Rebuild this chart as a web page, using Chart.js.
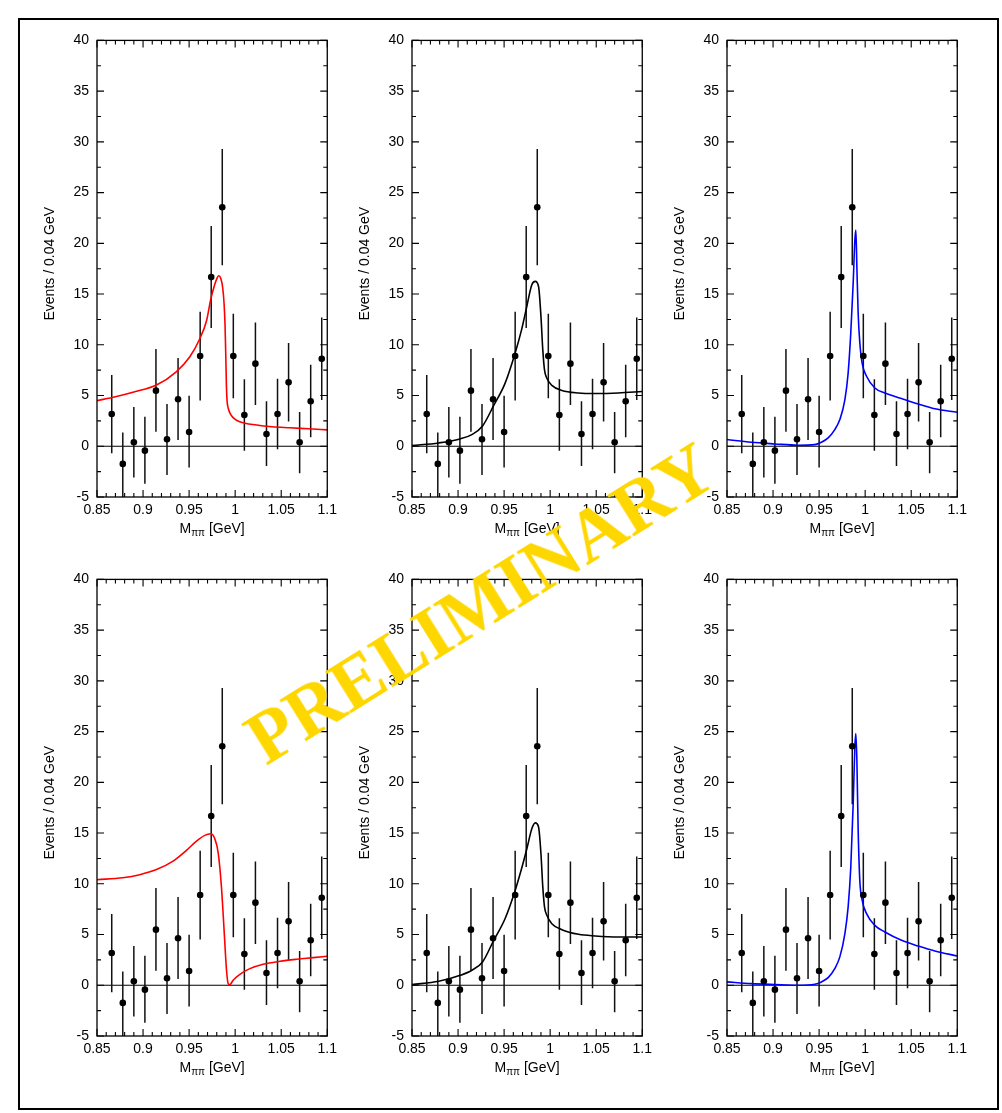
<!DOCTYPE html>
<html><head><meta charset="utf-8">
<script src="https://cdn.jsdelivr.net/npm/chart.js@4.4.0/dist/chart.umd.min.js"></script>
<style>
html,body{margin:0;padding:0;background:#fff;}
body{width:1002px;height:1113px;position:relative;overflow:hidden;}
#frame{position:absolute;left:18px;top:18px;width:981px;height:1092px;border:2px solid #000;box-sizing:border-box;}
canvas.pc{position:absolute;}
#wm{position:absolute;left:480px;top:603px;transform:translate(-50%,-50%) rotate(-32deg);font-family:"Liberation Serif","Times New Roman",serif;font-weight:bold;font-size:74px;line-height:1;color:#ffd700;white-space:nowrap;z-index:5;}
</style></head><body>
<div id="frame"></div>
<canvas id="c0" class="pc" width="305" height="535" style="left:37px;top:24px"></canvas>
<canvas id="c1" class="pc" width="305" height="535" style="left:352px;top:24px"></canvas>
<canvas id="c2" class="pc" width="305" height="535" style="left:667px;top:24px"></canvas>
<canvas id="c3" class="pc" width="305" height="535" style="left:37px;top:563px"></canvas>
<canvas id="c4" class="pc" width="305" height="535" style="left:352px;top:563px"></canvas>
<canvas id="c5" class="pc" width="305" height="535" style="left:667px;top:563px"></canvas>
<div id="wm">PRELIMINARY</div>
<script>
// ---- data ----
const binCenters = [0.866,0.878,0.890,0.902,0.914,0.926,0.938,0.950,0.962,0.974,0.986,0.998,1.010,1.022,1.034,1.046,1.058,1.070,1.082,1.094];
const counts     = [3.18,-1.74,0.39,-0.43,5.48,0.69,4.63,1.41,8.89,16.67,23.56,8.89,3.08,8.14,1.21,3.18,6.30,0.39,4.43,8.63];
const errHigh    = [7.02,1.35,3.87,2.92,9.58,4.17,8.70,4.99,13.26,21.70,29.30,13.06,6.60,12.20,4.43,6.66,10.17,3.38,8.04,12.70];
const errLow     = [-0.69,-5.3,-3.08,-3.70,1.44,-2.82,0.62,-2.10,4.50,11.65,17.85,4.73,-0.43,4.07,-1.94,-0.30,2.43,-2.66,0.89,4.56];

const xTickLabels = ['0.85','0.9','0.95','1','1.05','1.1'];
const yTickLabels = ['-5','0','5','10','15','20','25','30','35','40'];
const xTitleMain = 'M', xTitleSub = 'ππ', xTitleUnit = ' [GeV]';
const yTitle = 'Events / 0.04 GeV';

// fit curves
const fitTL_x = [0.85,0.87,0.89,0.9146,0.936,0.9508,0.9616,0.969,0.9733,0.977,0.98,0.982,0.9845,0.9865,0.988,0.989,0.9898,0.9905,0.9912,0.9925,0.9945,0.998,1.005,1.0233,1.04,1.0595,1.08,1.1];
const fitTL_y = [4.5,4.88,5.35,6.03,7.34,8.82,10.6,12.4,14.4,15.7,16.5,16.8,16.5,15.6,14.0,12.0,9.0,6.0,4.5,3.75,3.25,2.8,2.42,2.09,1.92,1.82,1.72,1.62];

const fitTM_x = [0.85,0.879,0.902,0.915,0.9266,0.9386,0.951,0.962,0.969,0.9747,0.98,0.9838,0.9874,0.990,0.992,0.9939,0.9964,1.0018,1.0127,1.0308,1.0488,1.074,1.1];
const fitTM_y = [0.07,0.33,0.72,1.15,2.0,4.0,6.2,9.2,11.5,13.8,15.9,16.25,15.75,12.8,9.5,7.5,6.7,6.0,5.5,5.25,5.2,5.25,5.4];

const fitTR_x = [0.85,0.8764,0.9018,0.927,0.9453,0.9525,0.9598,0.967,0.9725,0.978,0.9815,0.9844,0.987,0.9888,0.9899,0.991,0.9924,0.9942,0.9967,1.0015,1.0105,1.0214,1.0395,1.0576,1.0757,1.1];
const fitTR_y = [0.66,0.39,0.23,0.1,0.16,0.39,0.82,1.64,2.63,4.6,7.2,11.2,16.1,20.3,21.3,17.7,13.1,10.2,8.2,6.9,5.74,5.25,4.7,4.17,3.7,3.35];

const fitBL_x = [0.85,0.878,0.8964,0.9145,0.9326,0.9471,0.958,0.967,0.9732,0.9779,0.9815,0.9851,0.988,0.9906,0.9924,0.9942,0.9978,1.0051,1.016,1.0304,1.0486,1.0667,1.0848,1.1];
const fitBL_y = [10.4,10.6,10.9,11.4,12.24,13.3,14.2,14.77,14.93,14.44,13.1,9.7,5.4,1.5,0.16,0.05,0.5,1.08,1.64,2.07,2.36,2.56,2.72,2.86];

const fitBM_x = [0.85,0.879,0.9024,0.915,0.9266,0.9386,0.951,0.962,0.969,0.9747,0.98,0.9838,0.9874,0.990,0.992,0.9939,0.9964,1.0018,1.0127,1.0308,1.0488,1.074,1.1];
const fitBM_y = [0.07,0.39,0.98,1.48,2.3,4.4,6.56,9.35,11.5,13.45,15.4,16.0,15.6,12.96,9.7,7.7,6.9,6.07,5.48,5.02,4.86,4.76,4.76];

const fitBR_x = [0.85,0.8764,0.9018,0.927,0.9453,0.9525,0.9598,0.967,0.9725,0.978,0.9815,0.9844,0.987,0.9888,0.9899,0.991,0.9924,0.9942,0.9967,1.0015,1.0105,1.0214,1.0395,1.0576,1.0757,1.1];
const fitBR_y = [0.33,0.16,0.07,0.0,0.1,0.33,0.75,1.64,2.8,5.1,7.7,11.65,17.9,23.5,24.8,22.2,15.3,10.3,8.4,7.06,5.9,5.25,4.43,3.87,3.38,2.89];

const panels = [
  {id:'c0', fx:fitTL_x, fy:fitTL_y, color:'#ff0000'},
  {id:'c1', fx:fitTM_x, fy:fitTM_y, color:'#000000'},
  {id:'c2', fx:fitTR_x, fy:fitTR_y, color:'#0000ff'},
  {id:'c3', fx:fitBL_x, fy:fitBL_y, color:'#ff0000'},
  {id:'c4', fx:fitBM_x, fy:fitBM_y, color:'#000000'},
  {id:'c5', fx:fitBR_x, fy:fitBR_y, color:'#0000ff'}
];

const FONT = '"Liberation Sans", Arial, Helvetica, sans-serif';

const decor = {
  id:'decor',
  beforeDatasetsDraw(chart){
    const {ctx, chartArea:a, scales:{x,y}} = chart;
    ctx.save();
    ctx.beginPath(); ctx.rect(a.left,a.top,a.width,a.height); ctx.clip();
    const y0 = y.getPixelForValue(0);
    ctx.strokeStyle = '#000'; ctx.lineWidth = 1.2;
    ctx.beginPath(); ctx.moveTo(a.left,y0); ctx.lineTo(a.right,y0); ctx.stroke();
    ctx.lineWidth = 1.5; ctx.strokeStyle = '#111';
    binCenters.forEach((bx,i)=>{
      const px = x.getPixelForValue(bx);
      ctx.beginPath();
      ctx.moveTo(px, y.getPixelForValue(errHigh[i]));
      ctx.lineTo(px, y.getPixelForValue(errLow[i]));
      ctx.stroke();
    });
    ctx.restore();
  },
  afterDraw(chart){
    const {ctx, chartArea:a, scales:{x,y}} = chart;
    ctx.save();
    ctx.strokeStyle = '#000'; ctx.lineWidth = 1.3;
    ctx.strokeRect(a.left, a.top, a.width, a.height);
    const MAJ = 7, MIN = 4;
    ctx.lineWidth = 1.1;
    const yt = y.ticks.map(t=>t.value);
    const xt = x.ticks.map(t=>t.value);
    ctx.beginPath();
    yt.forEach((v,i)=>{
      const p = y.getPixelForValue(v);
      ctx.moveTo(a.left,p); ctx.lineTo(a.left+MAJ,p);
      ctx.moveTo(a.right,p); ctx.lineTo(a.right-MAJ,p);
      if(i<yt.length-1){
        const q = y.getPixelForValue((v+yt[i+1])/2);
        ctx.moveTo(a.left,q); ctx.lineTo(a.left+MIN,q);
        ctx.moveTo(a.right,q); ctx.lineTo(a.right-MIN,q);
      }
    });
    xt.forEach((v,i)=>{
      const p = x.getPixelForValue(v);
      ctx.moveTo(p,a.bottom); ctx.lineTo(p,a.bottom-MAJ);
      ctx.moveTo(p,a.top); ctx.lineTo(p,a.top+MAJ);
      if(i<xt.length-1){
        for(let k=1;k<5;k++){
          const q = x.getPixelForValue(v+(xt[i+1]-v)*k/5);
          ctx.moveTo(q,a.bottom); ctx.lineTo(q,a.bottom-MIN);
          ctx.moveTo(q,a.top); ctx.lineTo(q,a.top+MIN);
        }
      }
    });
    ctx.stroke();
    // axis titles
    ctx.fillStyle = '#000';
    ctx.font = '14px ' + FONT;
    ctx.save();
    ctx.translate(a.left-47, a.top + a.height/2 - 5);
    ctx.rotate(-Math.PI/2);
    ctx.textAlign = 'center'; ctx.textBaseline = 'middle';
    ctx.fillText(yTitle, 0, 0);
    ctx.restore();
    const subFont = '10px ' + FONT;
    ctx.font = '14px ' + FONT;
    const w1 = ctx.measureText(xTitleMain).width;
    const w3 = ctx.measureText(xTitleUnit).width;
    ctx.font = subFont;
    const w2 = ctx.measureText(xTitleSub).width;
    const total = w1+w2+w3;
    let sx = (a.left+a.right)/2 - total/2;
    const by = a.bottom + 36;
    ctx.textAlign = 'left'; ctx.textBaseline = 'alphabetic';
    ctx.font = '14px ' + FONT; ctx.fillText(xTitleMain, sx, by); sx += w1;
    ctx.font = subFont; ctx.fillText(xTitleSub, sx, by+3); sx += w2;
    ctx.font = '14px ' + FONT; ctx.fillText(xTitleUnit, sx, by);
    ctx.restore();
  }
};

panels.forEach(p=>{
  new Chart(document.getElementById(p.id), {
    type:'scatter',
    data:{datasets:[
      {
        label:'data',
        data: binCenters.map((bx,i)=>({x:bx, y:counts[i]})),
        pointRadius:3.3, pointBackgroundColor:'#000', pointBorderColor:'#000', pointBorderWidth:0,
        showLine:false, order:1
      },
      {
        label:'fit',
        data: p.fx.map((fx,i)=>({x:fx, y:p.fy[i]})),
        showLine:true, pointRadius:0, borderColor:p.color, borderWidth:1.6,
        cubicInterpolationMode:'monotone', fill:false, order:2
      }
    ]},
    options:{
      responsive:false, animation:false,
      layout:{padding:0},
      plugins:{legend:{display:false}, tooltip:{enabled:false}},
      scales:{
        x:{
          type:'linear', min:0.85, max:1.1,
          grid:{display:false, drawTicks:false}, border:{display:false},
          ticks:{stepSize:0.05, autoSkip:false, maxRotation:0, padding:5, color:'#000',
                 font:{size:14, family:FONT}, callback:(v,i)=>xTickLabels[i]},
          afterFit:(s)=>{s.height = 62;}
        },
        y:{
          type:'linear', min:-5, max:40,
          grid:{display:false, drawTicks:false}, border:{display:false},
          ticks:{stepSize:5, padding:8, color:'#000', font:{size:14, family:FONT},
                 callback:(v,i)=>yTickLabels[i]},
          afterFit:(s)=>{s.width = 60;}
        }
      }
    },
    plugins:[decor]
  });
});
</script>
</body></html>
